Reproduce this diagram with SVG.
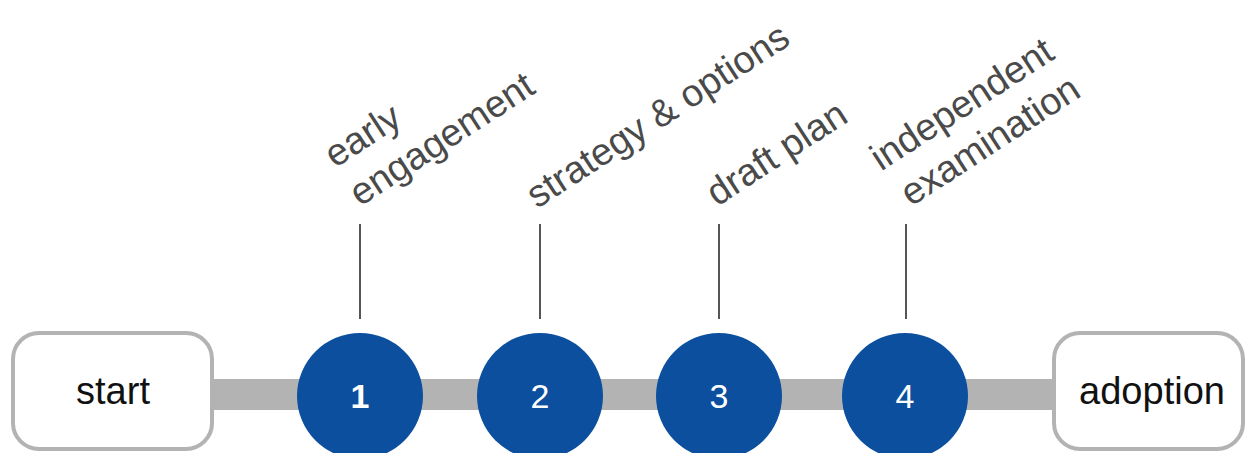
<svg xmlns="http://www.w3.org/2000/svg" width="1245" height="453" viewBox="0 0 1245 453">
<style>
.bar{fill:#b3b3b3}
.box{fill:#ffffff;stroke:#b3b3b3;stroke-width:4}
.boxt{font-family:"Liberation Sans",Arial,sans-serif;font-size:38px;fill:#111111;text-anchor:middle}
.circ{fill:#0b4f9e}
.num{font-family:"Liberation Sans",Arial,sans-serif;font-size:34px;fill:#ffffff;text-anchor:middle}
.tick{stroke:#555555;stroke-width:2}
.lbl{font-family:"Liberation Sans",Arial,sans-serif;font-size:38px;fill:#4a4a4a}
</style>
<rect width="1245" height="453" fill="#ffffff"/>
<g id="connectors">
<rect class="bar" x="210" y="379" width="850" height="31"/>
<line class="tick" x1="360" y1="224" x2="360" y2="319"/>
<line class="tick" x1="540" y1="224" x2="540" y2="319"/>
<line class="tick" x1="719" y1="224" x2="719" y2="319"/>
<line class="tick" x1="906" y1="224" x2="906" y2="319"/>
</g>
<g id="start">
<rect class="box" x="13" y="333" width="199" height="116" rx="26"/>
<text class="boxt" x="113" y="404">start</text>
</g>
<g id="step1">
<circle class="circ" cx="360" cy="396" r="63"/>
<text class="num" x="360" y="408" font-weight="bold">1</text>
<text class="lbl" transform="translate(360,207) rotate(-33)"><tspan x="0" y="-46">early</tspan><tspan x="0" y="0">engagement</tspan></text>
</g>
<g id="step2">
<circle class="circ" cx="540" cy="396" r="63"/>
<text class="num" x="540" y="408">2</text>
<text class="lbl" transform="translate(537,209) rotate(-33)">strategy &amp; options</text>
</g>
<g id="step3">
<circle class="circ" cx="719" cy="396" r="63"/>
<text class="num" x="719" y="408">3</text>
<text class="lbl" transform="translate(717,207) rotate(-33)">draft plan</text>
</g>
<g id="step4">
<circle class="circ" cx="905" cy="396" r="63"/>
<text class="num" x="905" y="408">4</text>
<text class="lbl" transform="translate(911,207) rotate(-33)"><tspan x="-6" y="-46">independent</tspan><tspan x="0" y="0">examination</tspan></text>
</g>
<g id="adoption">
<rect class="box" x="1054" y="333" width="189" height="116" rx="26"/>
<text class="boxt" x="1152" y="404">adoption</text>
</g>
</svg>
